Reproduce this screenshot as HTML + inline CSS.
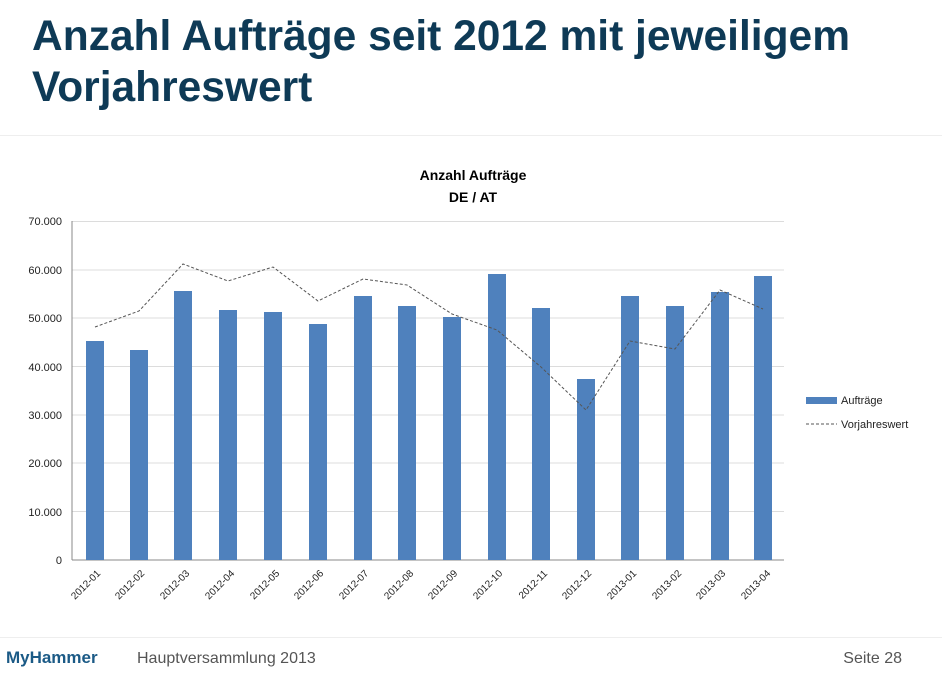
<!DOCTYPE html>
<html><head><meta charset="utf-8"><style>
body{margin:0;width:942px;height:668px;background:#fff;overflow:hidden;font-family:"Liberation Sans",sans-serif}
</style></head><body>
<svg width="942" height="668" xmlns="http://www.w3.org/2000/svg" font-family="Liberation Sans, sans-serif">
<text x="32" y="50" font-size="42.5" font-weight="bold" fill="#0e3a56">Anzahl Aufträge seit 2012 mit jeweiligem</text>
<text x="32" y="101" font-size="42.5" font-weight="bold" fill="#0e3a56">Vorjahreswert</text>
<line x1="0" y1="135.5" x2="942" y2="135.5" stroke="#eee"/>
<text x="473" y="180" font-size="14" font-weight="bold" text-anchor="middle" fill="#000">Anzahl Aufträge</text>
<text x="473" y="202" font-size="14" font-weight="bold" text-anchor="middle" fill="#000">DE / AT</text>
<g stroke="#dcdcdc" stroke-width="1">
<line x1="72" y1="221.5" x2="784" y2="221.5"/><line x1="72" y1="270" x2="784" y2="270"/>
<line x1="72" y1="318" x2="784" y2="318"/><line x1="72" y1="366.5" x2="784" y2="366.5"/>
<line x1="72" y1="415" x2="784" y2="415"/><line x1="72" y1="463" x2="784" y2="463"/>
<line x1="72" y1="511.5" x2="784" y2="511.5"/>
</g>
<line x1="72" y1="221" x2="72" y2="560" stroke="#888"/>
<line x1="72" y1="560" x2="784" y2="560" stroke="#888"/>
<g font-size="11" fill="#222" text-anchor="end">
<text x="62" y="225">70.000</text><text x="62" y="274">60.000</text><text x="62" y="322">50.000</text>
<text x="62" y="371">40.000</text><text x="62" y="419">30.000</text><text x="62" y="467">20.000</text>
<text x="62" y="516">10.000</text><text x="62" y="564">0</text>
</g>
<g fill="#4f81bd">
<rect x="86" y="341" width="18" height="219"/>
<rect x="130" y="350" width="18" height="210"/>
<rect x="174" y="291" width="18" height="269"/>
<rect x="219" y="310" width="18" height="250"/>
<rect x="264" y="312" width="18" height="248"/>
<rect x="309" y="324" width="18" height="236"/>
<rect x="354" y="296" width="18" height="264"/>
<rect x="398" y="306" width="18" height="254"/>
<rect x="443" y="317" width="18" height="243"/>
<rect x="488" y="274" width="18" height="286"/>
<rect x="532" y="308" width="18" height="252"/>
<rect x="577" y="379" width="18" height="181"/>
<rect x="621" y="296" width="18" height="264"/>
<rect x="666" y="306" width="18" height="254"/>
<rect x="711" y="292" width="18" height="268"/>
<rect x="754" y="276" width="18" height="284"/>
</g>
<polyline fill="none" stroke="#555" stroke-width="1" stroke-dasharray="3,2" points="95,327 139,311 183,264 228,281 273,267 318,301 363,279 407,285 452,314 497,330 541,367 586,410 630,341 675,349 720,290 763,309"/>
<g font-size="10" fill="#222" text-anchor="end">
<text transform="translate(101,574) rotate(-45)">2012-01</text>
<text transform="translate(145,574) rotate(-45)">2012-02</text>
<text transform="translate(190,574) rotate(-45)">2012-03</text>
<text transform="translate(235,574) rotate(-45)">2012-04</text>
<text transform="translate(280,574) rotate(-45)">2012-05</text>
<text transform="translate(324,574) rotate(-45)">2012-06</text>
<text transform="translate(369,574) rotate(-45)">2012-07</text>
<text transform="translate(414,574) rotate(-45)">2012-08</text>
<text transform="translate(458,574) rotate(-45)">2012-09</text>
<text transform="translate(503,574) rotate(-45)">2012-10</text>
<text transform="translate(548,574) rotate(-45)">2012-11</text>
<text transform="translate(592,574) rotate(-45)">2012-12</text>
<text transform="translate(637,574) rotate(-45)">2013-01</text>
<text transform="translate(682,574) rotate(-45)">2013-02</text>
<text transform="translate(726,574) rotate(-45)">2013-03</text>
<text transform="translate(771,574) rotate(-45)">2013-04</text>
</g>
<rect x="806" y="397" width="31" height="7" fill="#4f81bd"/>
<text x="841" y="404" font-size="11" fill="#222">Aufträge</text>
<line x1="806" y1="424" x2="837" y2="424" stroke="#555" stroke-dasharray="3,2"/>
<text x="841" y="428" font-size="11" fill="#222">Vorjahreswert</text>
<line x1="0" y1="637.5" x2="942" y2="637.5" stroke="#eee"/>
<text x="6" y="663" font-size="17" font-weight="bold" fill="#1b5a86" letter-spacing="-0.6" textLength="91">MyHammer</text>
<text x="137" y="663" font-size="16" fill="#555">Hauptversammlung 2013</text>
<text x="902" y="663" font-size="16" fill="#555" text-anchor="end">Seite 28</text>
</svg>
</body></html>
